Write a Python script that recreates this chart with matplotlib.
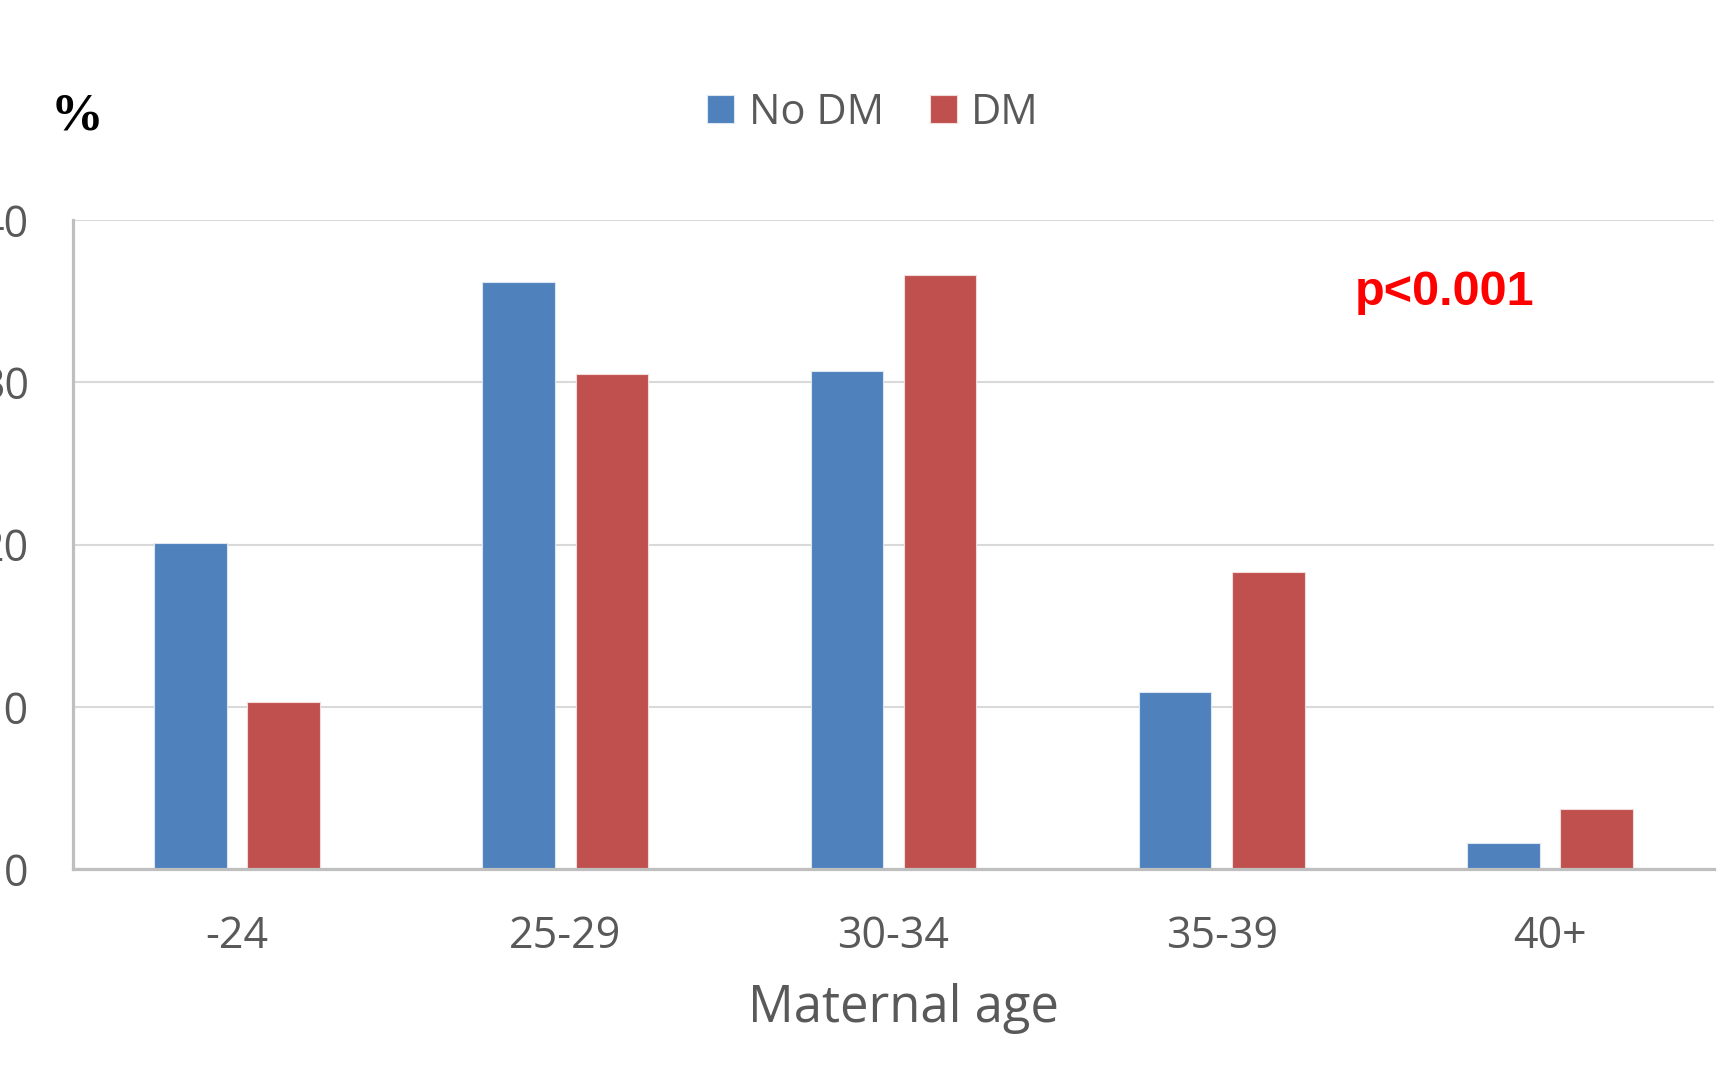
"""Maternal age distribution by diabetes status."""

import numpy as np
import matplotlib

matplotlib.use("Agg")
import matplotlib.pyplot as plt


AGE_GROUPS = ["-24", "25-29", "30-34", "35-39", "40+"]
NO_DM = [20.1, 36.2, 30.7, 10.9, 1.6]
DM = [10.3, 30.5, 36.6, 18.3, 3.7]
Y_TICKS = [0, 10, 20, 30, 40]

COLORS = {"No DM": "#4F81BD", "DM": "#C0504D"}
TEXT_GRAY = "#595959"
FONT = ["Open Sans", "DejaVu Sans"]


def main():
    fig = plt.figure(figsize=(17.23, 10.79), dpi=100)
    ax = fig.add_axes([0.0424, 0.1946, 0.9524, 0.6015])

    x = np.arange(len(AGE_GROUPS))
    width = 0.221
    offset = 0.142
    ax.bar(x - offset, NO_DM, width=width, color=COLORS["No DM"],
           edgecolor="#DCE6F2", linewidth=0.8, label="No DM", zorder=3)
    ax.bar(x + offset, DM, width=width, color=COLORS["DM"],
           edgecolor="#F2DCDB", linewidth=0.8, label="DM", zorder=3)

    ax.set_xlim(-0.5, len(AGE_GROUPS) - 0.5)
    ax.set_ylim(0, 40)
    ax.set_yticks(Y_TICKS)
    ax.set_xticks(x, AGE_GROUPS)

    ax.grid(axis="y", color="#D9D9D9", linewidth=1.5, zorder=0)
    for side in ("top", "right"):
        ax.spines[side].set_visible(False)
    for side in ("left", "bottom"):
        ax.spines[side].set_color("#BFBFBF")
        ax.spines[side].set_linewidth(2.3)
        ax.spines[side].set_zorder(4)

    # the reference crops the y tick labels at the left edge, so keep them there
    ax.tick_params(axis="both", length=0, labelcolor=TEXT_GRAY, labelsize=31)
    ax.tick_params(axis="x", pad=33)
    ax.tick_params(axis="y", pad=32)
    for label in ax.get_xticklabels() + ax.get_yticklabels():
        label.set_family(FONT)

    ax.set_xlabel("Maternal age", fontsize=36.5, color=TEXT_GRAY,
                  family=FONT, labelpad=15)
    ax.xaxis.set_label_coords(0.506, -0.175)

    ax.text(3.68, 35.55, "p<0.001", color="#FF0000", fontsize=35,
            fontweight="bold", family=["Liberation Sans", "DejaVu Sans"],
            ha="center", va="center")

    fig.text(77 / 1723, 1 - 116 / 1079, "%", fontsize=38, fontweight="bold",
             family=["Liberation Serif", "DejaVu Serif"], ha="center",
             va="center", color="black")

    fig.legend(loc="center", bbox_to_anchor=(873 / 1723, 1 - 113 / 1079),
               ncol=2, frameon=False, prop={"family": FONT, "size": 30},
               labelcolor=TEXT_GRAY, handlelength=0.65, handleheight=0.65,
               handletextpad=0.35, columnspacing=1.1)

    fig.savefig("out.png", dpi=100)
    plt.close(fig)


if __name__ == "__main__":
    main()
